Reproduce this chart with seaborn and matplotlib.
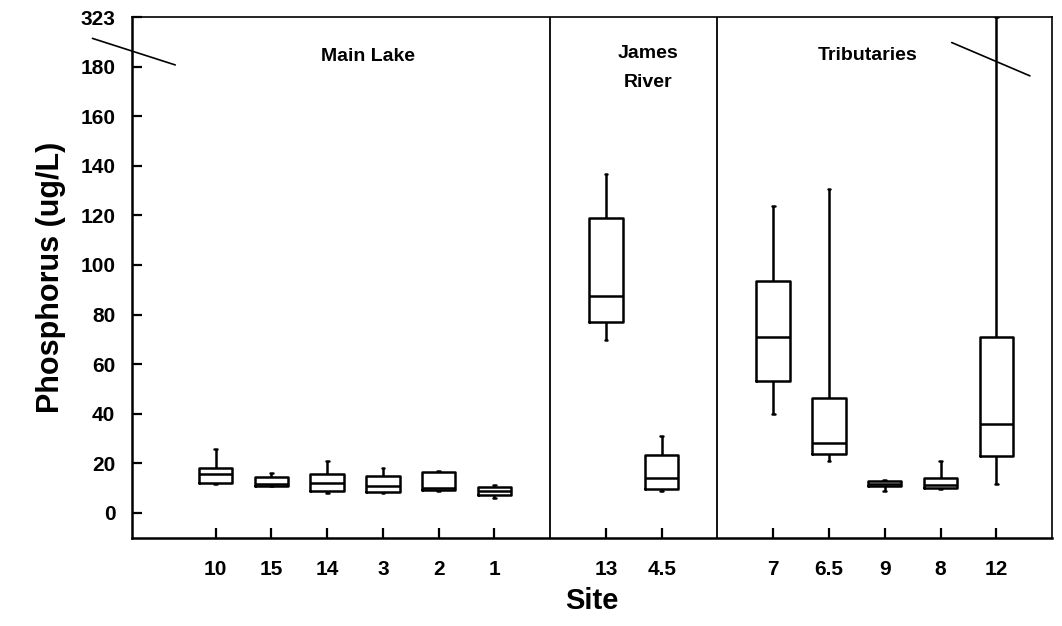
import numpy as np
import pandas as pd
import seaborn as sns
import matplotlib
matplotlib.use("Agg")
from matplotlib import pyplot as plt

# 사이트별 상자그림 요약값 (그림에서 읽은 값, ug/L)
sites = ['10', '15', '14', '3', '2', '1', '13', '4.5', '7', '6.5', '9', '8', '12']
whisker_low = [11.5, 10.7, 7.9, 7.9, 8.9, 5.9, 69.8, 8.9, 40.0, 20.9, 8.7, 9.8, 11.8]
q1 = [11.9, 11.0, 8.9, 8.6, 9.3, 7.4, 77.2, 9.7, 53.4, 23.6, 10.9, 10.2, 22.8]
median = [15.8, 11.8, 12.1, 10.9, 10.2, 8.9, 87.3, 14.0, 71.1, 28.4, 11.8, 11.4, 36.0]
q3 = [18.1, 14.6, 15.7, 14.9, 16.6, 10.5, 119.1, 23.5, 93.6, 46.4, 13.0, 14.1, 70.8]
whisker_high = [25.9, 16.1, 20.9, 18.1, 17.0, 11.1, 136.8, 31.0, 123.8, 130.5, 13.4, 20.9, 323.0]

groups = ['Main Lake', 'James\nRiver', 'Tributaries']
y_ticks = [0, 20, 40, 60, 80, 100, 120, 140, 160, 180]
y_max = 323

# 빈 칸을 넣어 그룹 사이 간격 만들기
order = sites[:6] + [' '] + sites[6:8] + ['  '] + sites[8:]

# 축 끊김: 180 위쪽은 눈금 한 칸(20)에 압축
BREAK = 180
def squash(v):
    v = np.asarray(v, dtype=float)
    return np.where(v <= BREAK, v, BREAK + (v - BREAK) * 20 / (y_max - BREAK))

rows = []
for i, s in enumerate(sites):
    for v in (whisker_low[i], q1[i], median[i], q3[i], whisker_high[i]):
        rows.append({'site': s, 'value': float(squash(v))})
df = pd.DataFrame(rows)

sns.set_style('ticks')
plt.rcParams['font.family'] = ['Liberation Sans', 'DejaVu Sans']
plt.rcParams['font.weight'] = 'bold'
plt.rcParams['text.color'] = 'black'
plt.rcParams['axes.labelcolor'] = 'black'
plt.rcParams['xtick.color'] = 'black'
plt.rcParams['ytick.color'] = 'black'

fig = plt.figure(figsize=(10.62, 6.26), dpi=100)
ax = fig.add_axes([0.1243, 0.141, 0.8663, 0.8318])

sns.boxplot(data=df, x='site', y='value', order=order, whis=(0, 100),
            fill=False, color='black', linecolor='black', linewidth=1.8, width=0.6,
            capwidths=0.05, ax=ax)

ax.set_xlim(-1.5, 15)
ax.set_ylim(-10, 200)

# 그룹 구분선
ax.axvline(6, color='black', lw=1.3)
ax.axvline(9, color='black', lw=1.3)

# 눈금
ax.set_xticks([order.index(s) for s in sites])
ax.set_xticklabels(sites, fontsize=15, fontweight='bold')
ax.set_yticks(list(squash(y_ticks)) + [float(squash(y_max))])
ax.set_yticklabels([str(t) for t in y_ticks] + [str(y_max)], fontsize=15, fontweight='bold')
ax.tick_params(axis='both', direction='in', length=7, width=1.6, pad=12)
ax.tick_params(axis='x', pad=16)

for sp in ax.spines.values():
    sp.set_visible(True)
    sp.set_color('black')
    sp.set_linewidth(1.2)
ax.spines['left'].set_linewidth(1.8)
ax.spines['bottom'].set_linewidth(1.8)

ax.set_xlabel('Site', fontsize=21, fontweight='bold', labelpad=6)
ax.set_ylabel('Phosphorus (ug/L)', fontsize=22, fontweight='bold', labelpad=10)

# 그룹 이름
ax.text(2.74, 184, groups[0], ha='center', va='center', fontsize=14, fontweight='bold')
ax.text(7.75, 179.5, groups[1], ha='center', va='center', fontsize=14, fontweight='bold',
        linespacing=1.9)
ax.text(11.7, 184.5, groups[2], ha='center', va='center', fontsize=14, fontweight='bold')

# 축 끊김 표시
ax.plot([-0.043, 0.047], [0.959, 0.908], transform=ax.transAxes, color='black',
        lw=1.2, clip_on=False)
ax.plot([0.891, 0.976], [0.951, 0.887], transform=ax.transAxes, color='black',
        lw=1.2, clip_on=False)

fig.savefig('out.png', dpi=100)
